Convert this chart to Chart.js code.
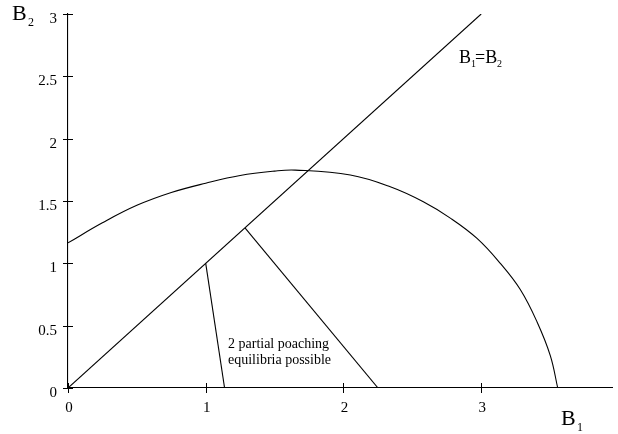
<!DOCTYPE html>
<html>
<head>
<meta charset="utf-8">
<script src="https://cdn.jsdelivr.net/npm/chart.js@4"></script>
<style>
  html, body { margin: 0; padding: 0; background: #fff; }
  #wrap { width: 618px; height: 434px; }
</style>
</head>
<body>
<div id="wrap"><canvas id="fig"></canvas></div>
<script>
// values
const xTicks = [0, 1, 2, 3]
const yTicks = [0, 0.5, 1, 1.5, 2, 2.5, 3]

const diagX = [0, 3]
const diagY = [0, 3]

const curveX = [0, 0.25, 0.5, 0.75, 1.0, 1.25, 1.5, 1.65, 2.05, 2.34, 2.58, 2.776, 2.97, 3.139, 3.284, 3.406, 3.502, 3.556]
const curveY = [1.164, 1.325, 1.465, 1.568, 1.643, 1.705, 1.740, 1.748, 1.708, 1.614, 1.494, 1.363, 1.20, 1.0, 0.79, 0.53, 0.26, 0]

const seg1X = [1, 1.137]
const seg1Y = [1, 0]
const seg2X = [1.285, 2.251]
const seg2Y = [1.285, 0]

const pts = (xs, ys) => xs.map((x, i) => ({ x: x, y: ys[i] }))

const serif = '"Liberation Serif", "DejaVu Serif", serif'

function lineSet(data, tension) {
    return {
        data: data,
        borderColor: '#000',
        borderWidth: 1.1,
        pointRadius: 0,
        showLine: true,
        fill: false,
        tension: tension || 0
    }
}

// ticks that cross the axis line, plus the free texts
const extras = {
    id: 'extras',
    afterDraw(chart) {
        const c = chart.ctx
        const xs = chart.scales.x
        const ys = chart.scales.y
        const area = chart.chartArea
        c.save()
        c.strokeStyle = '#000'
        c.lineWidth = 1
        c.beginPath()
        xTicks.forEach(v => {
            const px = Math.round(xs.getPixelForValue(v)) + 0.5
            c.moveTo(px, area.bottom - 5)
            c.lineTo(px, area.bottom + 5)
        })
        yTicks.forEach(v => {
            const py = Math.round(ys.getPixelForValue(v)) + 0.5
            c.moveTo(area.left - 5, py)
            c.lineTo(area.left + 5, py)
        })
        c.stroke()

        c.fillStyle = '#000'
        c.textBaseline = 'alphabetic'
        c.textAlign = 'left'
        // B2 axis title
        c.font = '22px ' + serif
        c.fillText('B', 12, 20)
        c.font = '12px ' + serif
        c.fillText('2', 28, 26)
        // B1 axis title
        c.font = '22px ' + serif
        c.fillText('B', 561, 425)
        c.font = '12px ' + serif
        c.fillText('1', 577, 431)
        // B1=B2
        c.font = '18px ' + serif
        c.fillText('B', 459, 63)
        c.font = '10px ' + serif
        c.fillText('1', 471, 67)
        c.font = '18px ' + serif
        c.fillText('=B', 475, 63)
        c.font = '10px ' + serif
        c.fillText('2', 497, 67)
        // region note
        c.font = '14px ' + serif
        c.fillText('2 partial poaching', 228, 348)
        c.fillText('equilibria possible', 228, 364)
        c.restore()
    }
}

new Chart(document.getElementById('fig'), {
    type: 'scatter',
    data: {
        datasets: [
            lineSet(pts(diagX, diagY)),
            lineSet(pts(curveX, curveY), 0.4),
            lineSet(pts(seg1X, seg1Y)),
            lineSet(pts(seg2X, seg2Y))
        ]
    },
    options: {
        responsive: true,
        maintainAspectRatio: false,
        animation: false,
        layout: { padding: { top: 14, right: 6, left: 0, bottom: 0 } },
        plugins: { legend: { display: false }, tooltip: { enabled: false } },
        scales: {
            x: {
                type: 'linear',
                min: 0,
                max: 3.95,
                afterBuildTicks: s => { s.ticks = xTicks.map(v => ({ value: v })) },
                afterFit: s => { s.height = 46; s.paddingLeft = 0; s.paddingRight = 0 },
                grid: { display: false, drawTicks: false },
                border: { display: true, color: '#000', width: 1.1 },
                ticks: {
                    color: '#000',
                    padding: 11,
                    labelOffset: 1,
                    font: { family: serif, size: 15 },
                    callback: v => String(v)
                }
            },
            y: {
                type: 'linear',
                min: 0,
                max: 3,
                afterBuildTicks: s => { s.ticks = yTicks.map(v => ({ value: v })) },
                afterFit: s => { s.width = 68; s.paddingTop = 0; s.paddingBottom = 0 },
                grid: { display: false, drawTicks: false },
                border: { display: true, color: '#000', width: 1.1 },
                ticks: {
                    color: '#000',
                    padding: 11,
                    labelOffset: 5,
                    font: { family: serif, size: 15 },
                    callback: v => String(v)
                }
            }
        }
    },
    plugins: [extras]
})
</script>
</body>
</html>
